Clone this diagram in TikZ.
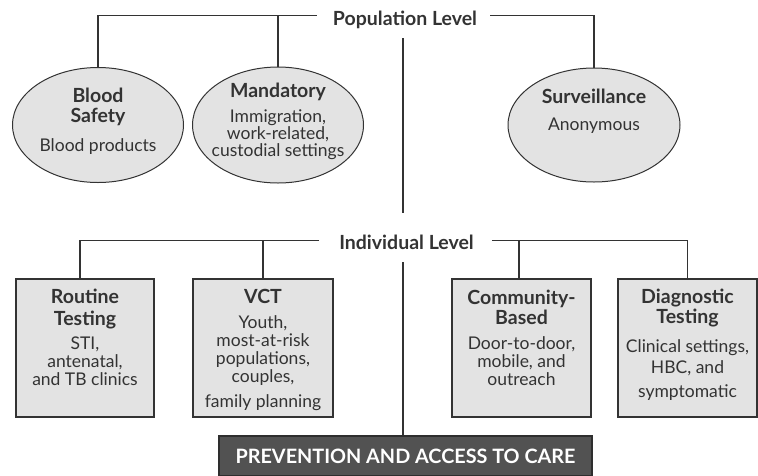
\documentclass[tikz,border=0pt]{standalone}
\usepackage{fontspec}
\setmainfont{Lato}
\usetikzlibrary{shapes.geometric}
\definecolor{ink}{HTML}{333333}
\definecolor{panel}{HTML}{E3E3E3}
\definecolor{banner}{HTML}{525252}
\definecolor{bannerrim}{HTML}{2E2E2E}
\begin{document}
\begin{tikzpicture}[x=1pt,y=-1pt,
  link/.style={draw=ink, line width=1.3pt},
  oval/.style={ellipse, draw=ink, line width=1pt, fill=panel, inner sep=0pt},
  card/.style={rectangle, draw=ink, line width=1.1pt, fill=panel, inner sep=0pt},
  level/.style={font=\bfseries\fontsize{19.5}{21}\selectfont, text=ink, inner sep=0pt, anchor=base},
  head/.style={font=\bfseries\fontsize{19.5}{21}\selectfont, text=ink, align=center, inner sep=0pt, anchor=base},
  body/.style={font=\fontsize{17.5}{18}\selectfont, text=ink, align=center, inner sep=0pt, anchor=base},
]
\useasboundingbox (0,0) rectangle (758,475);

% level labels (multi-line nodes below sit on the baseline of their last line)
\node[level] (pop) at (405,25) {Population Level};
\node[level] (ind) at (406.5,249) {Individual Level};

% population level shapes
\node[oval, minimum width=171pt, minimum height=115pt] (bs) at (98,125) {};
\node[oval, minimum width=171pt, minimum height=116pt] (mand) at (278,125) {};
\node[oval, minimum width=172pt, minimum height=114pt] (surv) at (594,125) {};

\node[head, font=\bfseries\fontsize{19.5}{20}\selectfont] (bsH) at (98,122) {Blood\\Safety};
\node[body] (bsB) at (98,151) {Blood products};
\node[head] (mandH) at (278,97) {Mandatory};
\node[body, font=\fontsize{17.5}{17}\selectfont] (mandB) at (278,156) {Immigration,\\work-related,\\custodial settings};
\node[head] (survH) at (594,103) {Surveillance};
\node[body] (survB) at (594,130) {Anonymous};

% individual level boxes
\node[card, minimum width=138pt, minimum height=138pt] (rt) at (85,348) {};
\node[card, minimum width=140pt, minimum height=138pt] (vct) at (263,348) {};
\node[card, minimum width=139pt, minimum height=138pt] (cb) at (521.5,348) {};
\node[card, minimum width=139pt, minimum height=138pt] (dx) at (687.5,348) {};

\node[head, font=\bfseries\fontsize{19.5}{22}\selectfont] (rtH) at (85,325) {Routine\\Testing};
\node[body] (rtB) at (85,385) {STI,\\antenatal,\\and TB clinics};
\node[head] (vctH) at (263,303) {VCT};
\node[body] (vctB) at (263,407) {Youth,\\most-at-risk\\populations,\\couples,\\[7pt]family planning};
\node[head, font=\bfseries\fontsize{19.5}{20}\selectfont] (cbH) at (521.5,324) {Community-\\Based};
\node[body] (cbB) at (521.5,385) {Door-to-door,\\mobile, and\\outreach};
\node[head, font=\bfseries\fontsize{19.5}{20}\selectfont] (dxH) at (687.5,323) {Diagnostic\\Testing};
\node[body] (dxB) at (687.5,397) {Clinical settings,\\[3pt]HBC, and\\[6pt]symptomatic};

% bottom banner
\node[rectangle, draw=bannerrim, line width=2.5pt, fill=banner, minimum width=373pt, minimum height=40pt,
      text=white, font=\bfseries\fontsize{19.8}{21}\selectfont] (care) at (405.5,456) {PREVENTION AND ACCESS TO CARE};

% population level connectors
\draw[link] ([yshift=9.5pt,xshift=-16pt]pop.base west) -| (bs.north);
\draw[link] (mand.north) |- ([yshift=9.5pt,xshift=-16pt]pop.base west);
\draw[link] ([yshift=9.5pt,xshift=13pt]pop.base east) -| (surv.north);

% trunk between the levels and down to the banner
\draw[link] ([xshift=-2pt,yshift=-13pt]pop.base) -- ([xshift=-3.5pt,yshift=36pt]ind.base);
\draw[link] ([xshift=-3.5pt,yshift=-13pt]ind.base) -- ([xshift=-3.5pt]ind.base |- care.north);

% individual level connectors
\draw[link] ([yshift=8.5pt,xshift=-20pt]ind.base west) -| ([xshift=-5pt]rt.north);
\draw[link] (vct.north) |- ([yshift=8.5pt,xshift=-20pt]ind.base west);
\draw[link] ([yshift=8.5pt,xshift=18pt]ind.base east) -| (dx.north);
\draw[link] ([xshift=-2.5pt]cb.north) |- ([yshift=8.5pt,xshift=18pt]ind.base east);
\end{tikzpicture}
\end{document}
